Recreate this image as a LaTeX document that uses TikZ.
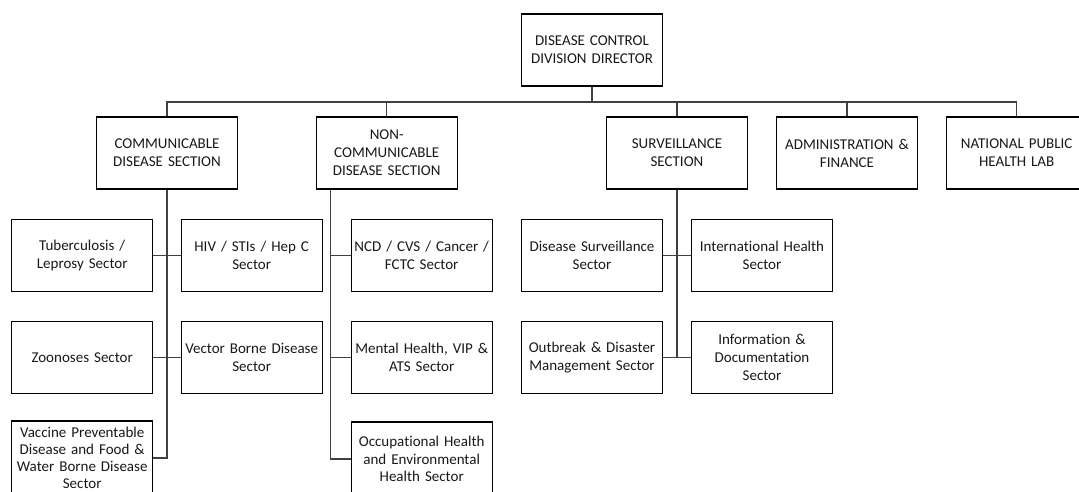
\documentclass[tikz,border=0pt]{standalone}
\usepackage{fontspec}
\setmainfont{Carlito}[Ligatures=NoCommon]
\usepackage{xcolor}
\usepackage{tikz}

\begin{document}
\begin{tikzpicture}[x=1pt,y=-1pt,
    box/.style={rectangle,draw=black,line width=1.3pt,fill=white,minimum width=141pt,minimum height=72pt,
        text width=136pt,inner sep=2pt,align=center,text=black!90,font=\fontsize{15}{18}\selectfont},
    tallbox/.style={box,minimum height=74pt,font=\fontsize{15}{17.2}\selectfont},
    link/.style={draw=black!75,line width=1.2pt}]
    \useasboundingbox (0,0) rectangle (1079,492);

    % top level
    \draw (592,50) node (dir) [box] {DISEASE CONTROL\\DIVISION DIRECTOR};

    % sections
    \draw (167,153) node (comm) [box] {COMMUNICABLE\\DISEASE SECTION};
    \draw (386.7,153) node (ncd) [box] {NON-\\COMMUNICABLE\\DISEASE SECTION};
    \draw (677,153) node (surv) [box] {SURVEILLANCE\\SECTION};
    \draw (847,153) node (admin) [box] {ADMINISTRATION \&\\FINANCE};
    \draw (1016.7,153) node (lab) [box] {NATIONAL PUBLIC\\HEALTH LAB};

    % sectors
    \draw (82.2,255.4) node (tb) [box] {Tuberculosis /\\Leprosy Sector};
    \draw (251.7,255.4) node (hiv) [box] {HIV / STIs / Hep C\\Sector};
    \draw (82.2,357.4) node (zoo) [box] {Zoonoses Sector};
    \draw (251.7,357.4) node (vbd) [box] {Vector Borne Disease\\Sector};
    \draw (82.2,458) node (vpd) [tallbox] {Vaccine Preventable\\Disease and Food \&\\Water Borne Disease\\Sector};

    \draw (421.7,255.4) node (cvs) [box] {NCD / CVS / Cancer /\\FCTC Sector};
    \draw (421.7,357.4) node (mh) [box] {Mental Health, VIP \&\\ATS Sector};
    \draw (421.7,459) node (occ) [tallbox] {Occupational Health\\and Environmental\\Health Sector};

    \draw (592,255.4) node (ds) [box] {Disease Surveillance\\Sector};
    \draw (762,255.4) node (ih) [box] {International Health\\Sector};
    \draw (592,357.4) node (odm) [box] {Outbreak \& Disaster\\Management Sector};
    \draw (762,357.4) node (info) [box] {Information \&\\Documentation\\Sector};

    \coordinate (bus) at (0,102);
    \coordinate (ncdbase) at ([xshift=15pt]ncd.south west);

    % director to sections
    \draw [link] (dir.south) -- (dir.south |- bus);
    \draw [link] (comm.north) -- (comm.north |- bus) -- (lab.north |- bus) -- (lab.north);
    \draw [link] (ncd.north) -- (ncd.north |- bus);
    \draw [link] (surv.north) -- (surv.north |- bus);
    \draw [link] (admin.north) -- (admin.north |- bus);

    % communicable
    \draw [link] (comm.south) |- (vpd.east);
    \draw [link] (tb.east) -- (hiv.west);
    \draw [link] (zoo.east) -- (vbd.west);

    % non-communicable
    \draw [link] (ncdbase) |- (occ.west);
    \draw [link] (ncdbase |- cvs.west) -- (cvs.west);
    \draw [link] (ncdbase |- mh.west) -- (mh.west);

    % surveillance
    \draw [link] (surv.south) -- (surv.south |- odm.east);
    \draw [link] (ds.east) -- (ih.west);
    \draw [link] (odm.east) -- (info.west);
\end{tikzpicture}
\end{document}
